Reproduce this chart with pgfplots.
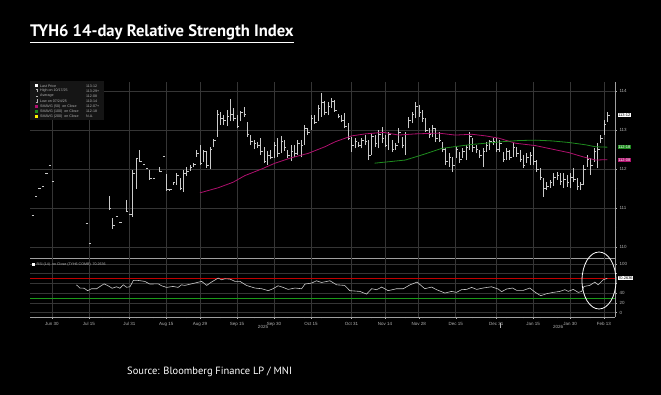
\documentclass[border=0pt]{standalone}
\usepackage{pgfplots}
\usepackage{pgfplotstable}
\pgfplotsset{compat=1.18}
\usepackage{fontspec}
\setmainfont{Liberation Sans}
\newfontfamily\titlefont{PT Sans}
\definecolor{gridc}{HTML}{353535}
\definecolor{barc}{HTML}{CACACA}
\definecolor{smag}{HTML}{B0106E}
\definecolor{sgreen}{HTML}{1E8C1E}
\definecolor{rsired}{HTML}{C00000}
\definecolor{rsigreen}{HTML}{1A9A1A}
\definecolor{lblc}{HTML}{B4B4B4}
\definecolor{legbg}{HTML}{151515}

% trading-day index i (0 = Jun 30 2025), high, low, close
\pgfplotstableread{
i h l c
-6 110.82 110.82 110.82
-5 111.31 111.31 111.31
-4 111.50 111.50 111.50
-3 111.55 111.55 111.55
-2 111.89 111.89 111.89
-1 112.10 112.10 112.10
0 111.69 111.69 111.69
10 110.60 110.60 110.60
11 110.11 110.11 110.11
17 111.30 110.95 111.00
18 110.75 110.46 110.55
19 110.80 110.80 110.80
20 110.64 110.64 110.64
22 111.20 110.90 110.92
23 110.85 110.85 110.85
24 111.97 110.78 111.90
25 112.27 111.50 112.27
26 112.50 112.19 112.19
27 112.12 112.12 112.12
28 112.02 112.02 112.02
29 111.97 111.72 111.77
30 111.77 111.77 111.77
32 112.06 111.92 111.95
33 112.33 112.33 112.33
34 111.86 111.44 111.47
35 111.50 111.44 111.47
36 111.65 111.60 111.65
37 111.90 111.60 111.85
38 111.77 111.46 111.50
39 111.97 111.42 111.90
40 112.06 111.83 111.95
41 112.10 111.95 112.05
42 112.15 112.05 112.12
43 112.49 112.32 112.40
44 112.62 112.10 112.15
45 112.49 112.19 112.45
46 112.45 112.03 112.10
47 112.57 112.01 112.50
48 112.76 112.57 112.74
49 113.51 112.83 113.40
50 113.47 113.14 113.30
51 113.38 113.13 113.25
52 113.51 113.10 113.35
53 113.79 113.22 113.40
54 113.57 113.22 113.30
55 113.38 113.04 113.10
56 113.49 113.22 113.45
57 113.60 113.34 113.40
58 113.21 112.83 112.90
59 112.87 112.62 112.70
60 112.74 112.52 112.65
61 112.70 112.55 112.60
62 112.79 112.36 112.45
63 112.57 112.15 112.20
64 112.45 112.10 112.35
65 112.50 112.25 112.30
66 112.70 112.28 112.60
67 112.79 112.30 112.40
68 112.85 112.40 112.70
69 112.75 112.47 112.55
70 112.49 112.28 112.35
71 112.62 112.20 112.45
72 112.62 112.30 112.40
73 112.74 112.36 112.65
74 112.74 112.30 112.60
75 113.13 112.62 113.05
76 113.05 112.87 112.95
77 113.38 113.00 113.30
78 113.38 113.15 113.20
79 113.64 113.22 113.55
80 113.94 113.34 113.70
81 113.74 113.38 113.45
82 113.73 113.38 113.60
83 113.82 113.56 113.75
84 113.77 113.47 113.50
85 113.40 113.30 113.35
86 113.38 113.21 113.25
87 113.43 113.04 113.10
88 113.17 112.74 112.80
89 112.83 112.44 112.60
90 112.79 112.53 112.70
91 112.70 112.57 112.60
92 112.79 112.53 112.75
93 112.87 112.62 112.70
94 112.74 112.23 112.35
95 112.92 112.36 112.85
96 112.87 112.57 112.65
97 113.00 112.53 112.90
98 113.08 112.66 112.80
99 112.87 112.57 112.60
100 112.96 112.49 112.90
101 112.74 112.44 112.50
102 112.66 112.49 112.60
103 113.04 112.66 112.95
104 112.83 112.53 112.60
105 112.96 112.36 112.90
106 113.34 113.04 113.25
107 113.47 113.17 113.40
108 113.73 113.30 113.60
109 113.64 113.34 113.45
110 113.51 113.21 113.30
111 113.30 112.96 113.00
112 113.04 112.79 112.90
113 113.13 112.83 113.05
114 113.04 112.70 112.80
115 112.96 112.70 112.75
116 112.70 112.44 112.50
117 112.53 112.10 112.20
118 112.40 112.06 112.30
119 112.32 111.93 112.10
120 112.57 112.27 112.50
121 112.44 112.15 112.25
122 112.53 112.27 112.45
123 112.62 112.23 112.55
124 112.96 112.49 112.85
125 112.79 112.44 112.55
126 112.62 112.40 112.50
127 112.49 112.27 112.35
128 112.54 112.06 112.45
129 112.70 112.44 112.60
130 112.74 112.49 112.70
131 112.79 112.62 112.70
132 112.79 112.44 112.50
133 112.74 112.44 112.65
134 112.44 112.19 112.25
135 112.53 112.23 112.45
136 112.49 112.23 112.30
137 112.66 112.32 112.55
138 112.57 112.32 112.40
139 112.49 112.19 112.25
140 112.36 112.02 112.10
141 112.40 112.15 112.30
142 112.44 112.10 112.35
143 112.57 112.10 112.20
144 112.23 111.93 112.00
145 112.02 111.72 111.80
146 111.76 111.29 111.50
147 111.67 111.46 111.55
148 111.72 111.51 111.65
149 111.90 111.56 111.80
150 111.93 111.72 111.85
151 111.90 111.59 111.70
152 111.90 111.51 111.75
153 111.85 111.55 111.65
154 111.90 111.51 111.80
155 112.03 111.67 111.75
156 111.77 111.46 111.55
157 111.67 111.46 111.60
158 112.10 111.59 112.00
159 112.36 112.06 112.25
160 112.28 111.85 112.10
161 112.53 112.19 112.45
162 112.66 112.03 112.50
163 112.87 112.66 112.80
164 113.26 112.87 113.15
165 113.47 113.20 113.375
}\bars

\pgfplotstableread{
i v
44 111.39
49.4 111.52
53.8 111.66
57.3 111.83
62.3 112.00
66.3 112.15
71.2 112.29
76.1 112.40
81.1 112.57
84.2 112.70
89.1 112.85
93.1 112.90
98.5 112.94
103 112.87
107.9 112.90
114.9 112.92
119.8 112.87
124.8 112.89
128.8 112.85
132.8 112.79
137.8 112.66
143.7 112.60
148.6 112.51
153.6 112.42
157.5 112.32
161.5 112.23
165 112.24
}\smafifty

\pgfplotstableread{
i v
95.9 112.15
105 112.23
109.9 112.36
115.9 112.53
124.8 112.63
128.8 112.66
133.8 112.70
138.7 112.73
143.7 112.74
148.6 112.72
153.6 112.68
158.6 112.62
161.5 112.57
165 112.56
}\smahundred

\pgfplotstableread{
i r
7.3 57
8.3 50.4
9.6 50
10.6 45
11.8 49
13.3 49
15.5 59
16.7 55
17.9 50
19.2 53
20.2 50
21.2 57
22.2 52
23.2 53
24.2 66
25.6 66
27.6 64
29.1 58.6
31.6 59
32.6 55
34.1 51.7
36 53.7
37.5 51.7
38.5 57
39.5 55.8
41.5 59
44.5 64
46 55.8
47.4 62.6
49.4 70.8
50.4 67.3
51.4 69.4
52.9 68.8
54.4 64
55.9 64
57.8 55.8
60.3 50.4
62.3 49
64.3 45
65.7 49
67.2 55
68.7 51.7
70.2 47.6
72.2 50.4
74.2 49
75.2 58.6
77.2 60.6
78.6 65.3
80.1 61.8
82.6 65.3
84.6 57
87 55.8
88.5 45
91.5 43.5
93.5 38
95 49
96.5 47
98 52.4
99.9 45
102.4 49
104.4 49
106.4 57
108.5 62.6
110.8 49
112.8 52.4
114.3 47
116.8 40.1
118.7 43.5
120.2 41.5
121.7 47
123.2 47.6
124.7 51.7
126.2 47.6
128.1 50.4
130.6 53
132.6 48.4
133.6 42.9
135.1 48.4
136.9 50.4
138.1 45.5
140 45.5
142 50.4
143.5 42.2
145.2 34.7
147 38.8
148.9 41.4
150.9 43.5
152.4 47
153.4 43.5
154.9 47.6
156.4 41.4
157.4 43.5
158.1 53.7
159.8 55.8
161.3 62.6
162.3 57
163.8 67.3
165 70.26
}\rsi

\pgfplotsset{
  bbg/.style={
    width=585pt, scale only axis, clip=false,
    xmin=-6.5, xmax=167.3,
    axis x line*=bottom, axis y line*=right,
    axis line style={draw=gray!75, line width=0.6pt, -},
    xtick={0,11,23,34,44,55,66,77,89,99,109,120,132,143,154,164},
    grid=major, major grid style={draw=gridc, line width=0.7pt},
    tick align=outside,
    tick style={draw=lblc, line width=0.4pt},
    major tick length=2pt, minor tick length=1.3pt,
    yticklabel style={font=\fontsize{4.5}{5}\selectfont, text=lblc, xshift=-1pt},
    xticklabel style={font=\fontsize{4.5}{5}\selectfont, text=lblc},
    /pgf/number format/assume math mode=true,
    /pgf/number format/1000 sep={},
  }
}

\begin{document}
\begin{tikzpicture}
\fill[black] (0pt,0pt) rectangle (661pt,-395pt);

% price panel
\begin{axis}[bbg, at={(30pt,-82pt)}, anchor=north west, height=176pt,
  ymin=109.72, ymax=114.23,
  xticklabels={}, xtick style={draw=none},
  ytick={110,111,112,113,114},
  minor ytick={110.5,111.5,112.5,113.5},
]
\addplot[draw=barc, line width=0.45pt, quiver={u=0,v=\thisrow{h}-\thisrow{l}}] table[x=i,y=l]{\bars};
\addplot[draw=barc, line width=0.45pt, quiver={u=0.7,v=0}] table[x=i,y=c]{\bars};
\addplot[smag, line width=0.8pt] table[x=i,y=v]{\smafifty};
\addplot[sgreen, line width=0.8pt] table[x=i,y=v]{\smahundred};
\node[fill=white, text=black, inner sep=0.7pt, anchor=west, font=\fontsize{4}{4}\selectfont] at (axis cs:168,113.375) {113-12};
\node[fill=sgreen, text=white, inner sep=0.7pt, anchor=west, font=\fontsize{4}{4}\selectfont] at (axis cs:168,112.5625) {112-18};
\node[fill=smag, text=white, inner sep=0.7pt, anchor=west, font=\fontsize{4}{4}\selectfont] at (axis cs:168,112.234) {112-08};
\end{axis}

% RSI panel
\begin{axis}[bbg, at={(30pt,-258pt)}, anchor=north west, height=59pt,
  ymin=-9, ymax=112,
  xticklabels={Jun 30,Jul 15,Jul 31,Aug 15,Aug 29,Sep 15,Sep 30,Oct 15,Oct 31,Nov 14,Nov 28,Dec 15,Dec 31,Jan 15,Jan 30,Feb 13},
  minor xtick={-5,0,...,165},
  xtick style={draw=lblc},
  ytick={0,20,40,60,80,100}, yticklabels={0,20,40,,,100},
]
\addplot[rsired, line width=0.9pt] coordinates {(-6.5,70) (167.3,70)};
\addplot[rsigreen, line width=0.9pt] coordinates {(-6.5,30) (167.3,30)};
\addplot[barc, line width=0.6pt] table[x=i,y=r]{\rsi};
\node[fill=white, text=black, inner sep=0.7pt, anchor=west, font=\fontsize{4}{4}\selectfont] at (axis cs:168,70.26) {70.2636};
\end{axis}

\begin{scope}[x=1pt,y=1pt]
% title
\node[anchor=base west, inner sep=0, text=white, font=\titlefont\bfseries\fontsize{16.6}{17}\selectfont] at (30,-37) {\underline{TYH6 14-day Relative Strength Index}};
% legend
\fill[legbg] (30,-81) rectangle (104,-120);
\fill[white] (35.3,-84.3) rectangle (38.3,-87.3);
\draw[lblc, line width=0.35pt] (36.8,-89.5) -- (36.8,-92.5) (35.8,-89.5) -- (37.8,-89.5);
\draw[lblc, line width=0.35pt] (35.8,-96) -- (37.8,-96);
\draw[lblc, line width=0.35pt] (36.8,-99.5) -- (36.8,-102.5) (35.8,-102.5) -- (37.8,-102.5);
\fill[smag] (35.3,-104.8) rectangle (38.3,-107.8);
\fill[sgreen] (35.3,-109.8) rectangle (38.3,-112.8);
\fill[yellow] (35.3,-114.8) rectangle (38.3,-117.8);
\begin{scope}[every node/.style={anchor=west, inner sep=0, text=lblc, font=\fontsize{3.6}{4}\selectfont}]
\node at (40,-85.8) {Last Price};          \node at (86,-85.8) {113-12};
\node at (40,-91) {High on 10/17/25};       \node at (86,-91) {113-29+};
\node at (40,-96) {Average};               \node at (86,-96) {112-08};
\node at (40,-101) {Low on 07/24/25};       \node at (86,-101) {110-14};
\node at (40,-106.3) {SMAVG (50) \ on Close};  \node at (86,-106.3) {112-07+};
\node at (40,-111.3) {SMAVG (100) \ on Close}; \node at (86,-111.3) {112-18};
\node at (40,-116.3) {SMAVG (200) \ on Close}; \node at (86,-116.3) {N.A.};
\end{scope}
% RSI legend
\fill[white] (32,-263.5) rectangle (35,-266.5);
\node[anchor=west, inner sep=0, text=lblc, font=\fontsize{3.6}{4}\selectfont] at (36.5,-265) {RSI (14) \ on Close (TYH6 COMB) \ 70.2636};
% years
\node[text=lblc, font=\fontsize{4.5}{5}\selectfont, inner sep=0] at (263,-326.5) {2025};
\node[text=lblc, font=\fontsize{4.5}{5}\selectfont, inner sep=0] at (558,-326.5) {2026};
\draw[lblc, line width=0.4pt] (500,-323) -- (500,-328);
% annotation ellipse
\draw[white, line width=0.8pt] (599,-280.5) ellipse [x radius=17, y radius=28.5];
% source
\node[anchor=west, inner sep=0, text=white, font=\titlefont\fontsize{10.5}{12}\selectfont] at (127,-372) {Source: Bloomberg Finance LP / MNI};
\end{scope}

\pgfresetboundingbox
\path[use as bounding box] (0pt,0pt) rectangle (661pt,-395pt);
\end{tikzpicture}
\end{document}
